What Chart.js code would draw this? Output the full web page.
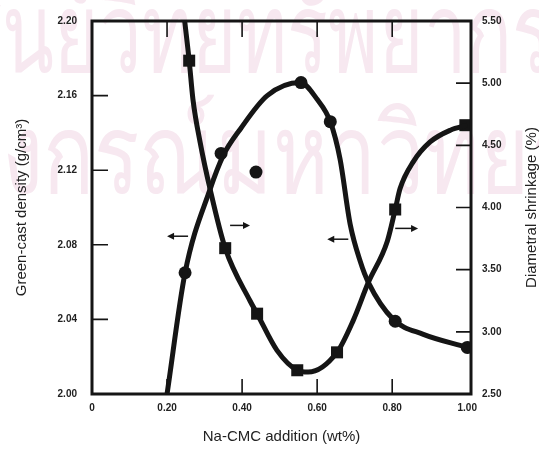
<!DOCTYPE html>
<html>
<head>
<meta charset="utf-8">
<script src="https://cdn.jsdelivr.net/npm/chart.js@4.4.1/dist/chart.umd.min.js"></script>
<style>
  html, body { margin: 0; padding: 0; background: #fff; }
  #chart { display: block; }
</style>
</head>
<body>
<canvas id="chart" width="539" height="454"></canvas>
<script>
// tick labels
const xTicks = [0, 0.2, 0.4, 0.6, 0.8, 1.0];
const densityTicks = [2.00, 2.04, 2.08, 2.12, 2.16, 2.20];
const shrinkTicks = [2.5, 3.0, 3.5, 4.0, 4.5, 5.0, 5.5];

// measured points (Na-CMC wt%)
const densityX = [0.248, 0.344, 0.437, 0.557, 0.635, 0.808, 1.00];
const densityY = [2.065, 2.129, 2.119, 2.167, 2.146, 2.039, 2.025];
const shrinkX = [0.259, 0.355, 0.440, 0.547, 0.653, 0.808, 0.995];
const shrinkY = [5.181, 3.673, 3.146, 2.691, 2.835, 3.984, 4.662];

// hand-drawn fitted curves
const densityCurveX = [0.200, 0.248, 0.315, 0.350, 0.395, 0.467, 0.555, 0.600, 0.635, 0.661, 0.688, 0.715, 0.736, 0.803, 0.883, 1.00];
const densityCurveY = [2.000, 2.065, 2.110, 2.128, 2.142, 2.160, 2.167, 2.158, 2.146, 2.126, 2.091, 2.071, 2.060, 2.040, 2.032, 2.025];
const shrinkCurveX = [0.247, 0.259, 0.269, 0.288, 0.315, 0.355, 0.421, 0.440, 0.493, 0.547, 0.576, 0.653, 0.696, 0.736, 0.787, 0.808, 0.821, 0.856, 0.901, 0.955, 1.00];
const shrinkCurveY = [5.500, 5.181, 4.870, 4.527, 4.144, 3.673, 3.250, 3.146, 2.851, 2.691, 2.676, 2.835, 3.090, 3.394, 3.729, 3.984, 4.152, 4.367, 4.527, 4.622, 4.662];

// direction arrows: [fromX, toX, y on density axis]
const arrows = [
    [0.256, 0.200, 2.0846],
    [0.368, 0.421, 2.0904],
    [0.683, 0.627, 2.0830],
    [0.808, 0.869, 2.0888]
];

// scanned library watermark: [full text, hidden lead-in, visible part, visible width, baseline]
const watermark = [
    ['ศูนย์วิทยทรัพยากร', 'ศู', 'นย์วิทยทรัพยาก', 510, 72],
    ['จุฬาลงกรณ์มหาวิทยาลัย', 'จุฬาล', 'งกรณ์มหาวิทย', 528, 193]
];

const INK = '#151515';
const pts = (xs, ys) => xs.map((x, i) => ({ x: x, y: ys[i] }));

const fixWidth = w => scale => { scale.width = w; };

const framePlugin = {
    id: 'frame',
    beforeDraw(chart) {
        const { ctx } = chart;
        ctx.save();
        ctx.fillStyle = 'rgb(247, 232, 240)';
        ctx.font = '80px "Noto Sans", "DejaVu Sans", sans-serif';
        ctx.textBaseline = 'alphabetic';
        watermark.forEach(([full, lead, seen, span, base]) => {
            const sx = span / ctx.measureText(seen).width;
            const off = ctx.measureText(lead).width;
            ctx.save();
            ctx.translate(2, base);
            ctx.scale(sx, 1.4);
            ctx.fillText(full, -off, 0);
            ctx.restore();
        });
        ctx.restore();
    },
    afterDatasetsDraw(chart) {
        const { ctx, chartArea: a, scales } = chart;
        const x = scales.x, y = scales.y, y1 = scales.y1;
        ctx.save();
        // inward tick marks
        ctx.strokeStyle = INK;
        ctx.lineWidth = 1.6;
        ctx.beginPath();
        [0.2, 0.4, 0.6, 0.8].forEach(v => {
            const px = x.getPixelForValue(v);
            ctx.moveTo(px, a.bottom); ctx.lineTo(px, a.bottom - 15);
            ctx.moveTo(px, a.top); ctx.lineTo(px, a.top + 16);
        });
        [2.04, 2.08, 2.12, 2.16].forEach(v => {
            const py = y.getPixelForValue(v);
            ctx.moveTo(a.left, py); ctx.lineTo(a.left + 16, py);
        });
        [3.0, 3.5, 4.0, 4.5, 5.0].forEach(v => {
            const py = y1.getPixelForValue(v);
            ctx.moveTo(a.right, py); ctx.lineTo(a.right - 15, py);
        });
        ctx.stroke();

        // frame
        ctx.lineWidth = 3;
        ctx.strokeRect(a.left, a.top, a.right - a.left, a.bottom - a.top);

        // arrows
        ctx.lineWidth = 1.5;
        arrows.forEach(([fx, tx, v]) => {
            const x0 = x.getPixelForValue(fx), x1 = x.getPixelForValue(tx);
            const py = y.getPixelForValue(v);
            const dir = Math.sign(x1 - x0);
            ctx.beginPath();
            ctx.moveTo(x0, py); ctx.lineTo(x1 - dir * 4, py);
            ctx.stroke();
            ctx.beginPath();
            ctx.moveTo(x1, py);
            ctx.lineTo(x1 - dir * 7, py - 3.5);
            ctx.lineTo(x1 - dir * 7, py + 3.5);
            ctx.closePath();
            ctx.fillStyle = INK;
            ctx.fill();
        });

        // right axis title reads bottom to top
        ctx.fillStyle = '#222';
        ctx.font = '15px "Liberation Sans", Arial, sans-serif';
        ctx.textAlign = 'center';
        ctx.textBaseline = 'middle';
        ctx.translate(532, (a.top + a.bottom) / 2);
        ctx.rotate(-Math.PI / 2);
        ctx.fillText('Diametral shrinkage (%)', 0, 0);
        ctx.restore();
    }
};

const tickFont = { family: '"Liberation Sans", Arial, sans-serif', size: 10, weight: 'bold' };
const titleFont = { family: '"Liberation Sans", Arial, sans-serif', size: 15 };

new Chart(document.getElementById('chart'), {
    type: 'scatter',
    data: {
        datasets: [
            {
                type: 'line',
                data: pts(densityCurveX, densityCurveY),
                yAxisID: 'y',
                borderColor: INK,
                borderWidth: 5,
                pointRadius: 0,
                cubicInterpolationMode: 'monotone',
                fill: false
            },
            {
                type: 'line',
                data: pts(shrinkCurveX, shrinkCurveY),
                yAxisID: 'y1',
                borderColor: INK,
                borderWidth: 5,
                pointRadius: 0,
                cubicInterpolationMode: 'monotone',
                fill: false
            },
            {
                label: 'Green-cast density',
                data: pts(densityX, densityY),
                yAxisID: 'y',
                pointStyle: 'circle',
                pointRadius: 6.5,
                backgroundColor: INK,
                borderColor: INK,
                borderWidth: 0
            },
            {
                label: 'Diametral shrinkage',
                data: pts(shrinkX, shrinkY),
                yAxisID: 'y1',
                pointStyle: 'rect',
                pointRadius: 8.5,
                backgroundColor: INK,
                borderColor: INK,
                borderWidth: 0
            }
        ]
    },
    options: {
        responsive: false,
        animation: false,
        layout: { padding: { top: 18, left: 0, right: 0, bottom: 0 } },
        plugins: { legend: { display: false }, tooltip: { enabled: false } },
        scales: {
            x: {
                type: 'linear',
                min: 0,
                max: 1.01,
                afterBuildTicks: s => { s.ticks = xTicks.map(v => ({ value: v })); },
                afterFit: s => { s.height = 60; },
                grid: { display: false, drawTicks: false },
                border: { display: false },
                ticks: {
                    padding: 8,
                    color: '#222',
                    font: tickFont,
                    maxRotation: 0,
                    callback: v => v === 0 ? '0' : v.toFixed(2)
                },
                title: { display: true, text: 'Na-CMC addition (wt%)', color: '#222', font: titleFont, padding: { top: 0, bottom: 8 } }
            },
            y: {
                position: 'left',
                min: 2.00,
                max: 2.20,
                afterBuildTicks: s => { s.ticks = densityTicks.map(v => ({ value: v })); },
                afterFit: fixWidth(92),
                grid: { display: false, drawTicks: false },
                border: { display: false },
                ticks: { padding: 15, color: '#222', font: tickFont, callback: v => v.toFixed(2) },
                title: { display: true, text: 'Green-cast density (g/cm³)', color: '#222', font: titleFont, padding: { top: 13, bottom: 0 } }
            },
            y1: {
                position: 'right',
                min: 2.5,
                max: 5.5,
                afterBuildTicks: s => { s.ticks = shrinkTicks.map(v => ({ value: v })); },
                afterFit: fixWidth(68),
                grid: { display: false, drawTicks: false },
                border: { display: false },
                ticks: { padding: 11, color: '#222', font: tickFont, callback: v => v.toFixed(2) }
            }
        }
    },
    plugins: [framePlugin]
});
</script>
</body>
</html>
